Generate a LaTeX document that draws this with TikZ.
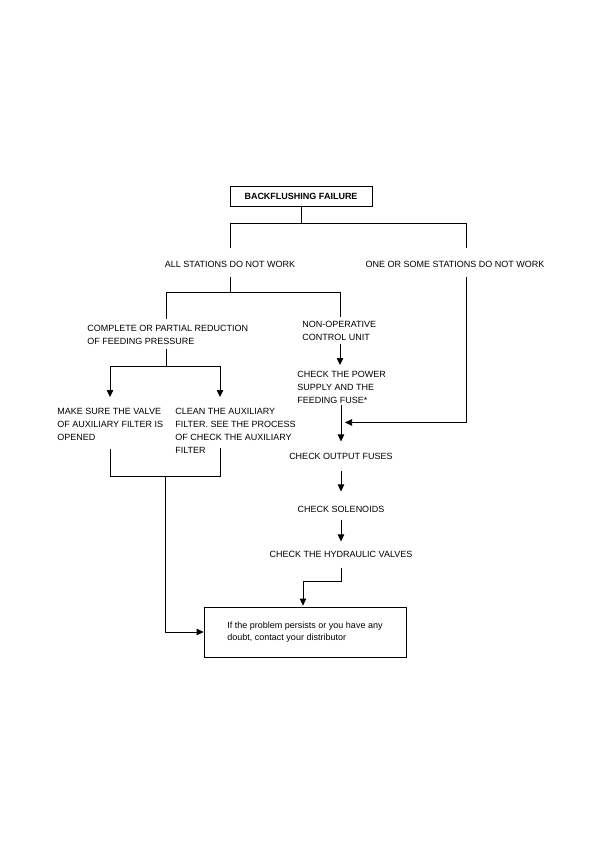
\documentclass[tikz,border=0pt]{standalone}
\usepackage{fontspec}
\setmainfont{Liberation Sans}
\usetikzlibrary{arrows.meta,calc,positioning}
\tikzset{%
	mainbox/.style  = {draw, rectangle, minimum width=142pt, minimum height=20pt, inner sep=0pt, font=\fontsize{9}{12.8}\selectfont\bfseries},
	plain/.style    = {inner sep=0pt, font=\fontsize{9}{12.8}\selectfont},
	plainleft/.style= {plain, align=left, anchor=north west},
	endbox/.style   = {draw, rectangle, minimum width=202pt, minimum height=50pt, align=left, font=\fontsize{9}{12}\selectfont},
	arrow/.style    = {-{Triangle[length=7pt,width=6.5pt]}},
}
\begin{document}
\begin{tikzpicture}[x=1pt,y=-1pt,line width=0.75pt]
	\useasboundingbox (0,0) rectangle (595,842);
	\node[mainbox] (fail) at (301,196) {BACKFLUSHING FAILURE};
	\node[plain] (all) at (230,264) {ALL STATIONS DO NOT WORK};
	\node[plain] (some) at (455,264) {ONE OR SOME STATIONS DO NOT WORK};
	\node[plainleft] (reduce) at (87,325) {COMPLETE OR PARTIAL REDUCTION\\OF FEEDING PRESSURE};
	\node[plainleft] (ctrl) at (302,321) {NON-OPERATIVE\\CONTROL UNIT};
	\node[plainleft] (valve) at (57,408) {MAKE SURE THE VALVE\\OF AUXILIARY FILTER IS\\OPENED};
	\node[plainleft] (clean) at (175,408) {CLEAN THE AUXILIARY\\FILTER. SEE THE PROCESS\\OF CHECK THE AUXILIARY\\FILTER};
	\node[plainleft] (power) at (297,371) {CHECK THE POWER\\SUPPLY AND THE\\FEEDING FUSE*};
	\node[plain] (fuses) at (341,456) {CHECK OUTPUT FUSES};
	\node[plain] (sol) at (341,509) {CHECK SOLENOIDS};
	\node[plain] (valves) at (341,554) {CHECK THE HYDRAULIC VALVES};
	\node[endbox] (contact) at (305,632) {If the problem persists or you have any\\doubt, contact your distributor};
	
	% first split
	\draw (fail.south) -- ++(0,17) coordinate (fork1);
	\draw ($(all.north)+(0,-12)$) |- (fork1) -| ($(some.north)+(11,-12)$);
	% all stations
	\draw ($(all.south)+(0,9)$) -- ++(0,16) coordinate (fork2);
	\draw ($(reduce.north west)+(79,-6)$) |- (fork2) -| ($(ctrl.north west)+(38,-4)$);
	% pressure branch
	\draw ($(reduce.south west)+(79,4)$) -- ++(0,17) coordinate (fork3);
	\draw[arrow] (fork3) -| ($(valve.north west)+(53,-11)$);
	\draw[arrow] (fork3) -| ($(clean.north west)+(45,-11)$);
	\coordinate (c1) at ($(clean.north west)+(45,68)$);
	\draw ($(valve.south west)+(53,8)$) |- (c1) -- ($(clean.north west)+(45,40)$);
	\coordinate (fork4) at ($(valve.north west |- c1)+(108,0)$);
	\draw[arrow] (fork4) |- (contact.west);
	% control unit branch
	\draw[arrow] ($(ctrl.south west)+(38,3)$) -- ($(power.north west)+(43,-6)$);
	\draw[arrow] ($(power.south west)+(44,1)$) -- ($(fuses.north)+(0,-11)$);
	\draw[arrow] ($(some.south)+(11,9)$) |- ($(fuses.north)+(4,-30)$);
	\draw[arrow] ($(fuses.south)+(0,11)$) -- ($(sol.north)+(0,-14)$);
	\draw[arrow] ($(sol.south)+(0,7)$) -- ($(valves.north)+(0,-9)$);
	\draw[arrow] ($(valves.south)+(0,10)$) -- ++(0,14) -| ($(contact.north)+(-2,-1)$);
\end{tikzpicture}
\end{document}
